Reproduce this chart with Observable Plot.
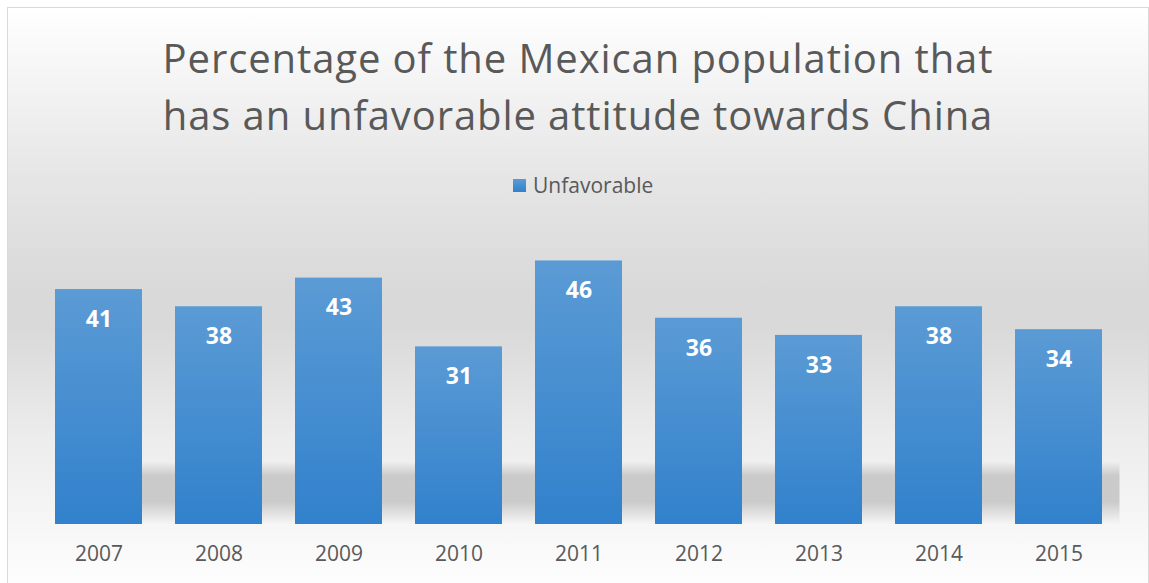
<!DOCTYPE html>
<html>
<head>
<meta charset="utf-8">
<script src="https://cdn.jsdelivr.net/npm/d3@7"></script>
<script src="https://cdn.jsdelivr.net/npm/@observablehq/plot@0.6"></script>
<style>
  html, body { margin: 0; padding: 0; background: #fff; }
  #chart {
    position: absolute; left: 7px; top: 7px; width: 1140px; height: 600px;
    border: 1px solid #d9d9d9; overflow: hidden;
    background: linear-gradient(to bottom, #ffffff 0px, #e6e6e6 167px, #d9d9d9 282px, #d9d9d9 320px, #ececec 427px, #fafafa 547px, #ffffff 600px);
    font-family: "Open Sans", sans-serif; color: #595959;
  }
  #title {
    position: absolute; left: 0; top: 21px; width: 1140px; text-align: center;
    font-size: 40px; line-height: 57px; letter-spacing: 0.9px; color: #595959; white-space: nowrap;
  }
  #legend {
    position: absolute; left: 505px; top: 167px; display: flex; align-items: center;
    font-size: 21px; line-height: 21px; color: #595959;
  }
  #legend .sw { width: 13px; height: 13px; margin-right: 7px; background: linear-gradient(to bottom, #5b9bd5, #3181cc); }
  #plot { position: absolute; left: 0; top: 192px; }
</style>
</head>
<body>
<div id="chart">
  <div id="title">Percentage of the Mexican population that<br>has an unfavorable attitude towards China</div>
  <div id="legend"><div class="sw"></div><span>Unfavorable</span></div>
  <div id="plot"></div>
</div>
<script>
const years = ["2007", "2008", "2009", "2010", "2011", "2012", "2013", "2014", "2015"];
const values = [41, 38, 43, 31, 46, 36, 33, 38, 34];
const seriesName = "Unfavorable";

const data = years.map((y, i) => ({year: y, value: values[i], series: seriesName}));

const svg = Plot.plot({
  width: 1140,
  height: 380,
  marginTop: 37.5,
  marginBottom: 56,
  marginLeft: 29,
  marginRight: 29,
  style: {background: "transparent", color: "#595959", fontFamily: "Open Sans, sans-serif", overflow: "visible"},
  x: {domain: years, paddingInner: 0.276, paddingOuter: 0.138, label: null},
  y: {domain: [0, 50], axis: null},
  marks: [
    Plot.frame({fill: "url(#shadowGrad)", stroke: "none", insetLeft: 25}),
    Plot.barY(data, {x: "year", y: "value", fill: "url(#barGrad)"}),
    Plot.text(data, {x: "year", y: "value", text: d => String(d.value), dy: 30, fill: "white", fontSize: 23, fontWeight: "bold"}),
    Plot.axisX({tickSize: 0, tickPadding: 22, fontSize: 21, label: null, fill: "#595959"})
  ]
});

svg.insertAdjacentHTML("afterbegin", `
<defs>
  <linearGradient id="barGrad" x1="0" y1="0" x2="0" y2="1">
    <stop offset="0" stop-color="#5b9bd5"/>
    <stop offset="1" stop-color="#3181cc"/>
  </linearGradient>
  <linearGradient id="shadowGrad" x1="0" y1="0" x2="0" y2="1">
    <stop offset="0" stop-color="#000" stop-opacity="0"/>
    <stop offset="0.78" stop-color="#000" stop-opacity="0"/>
    <stop offset="0.83" stop-color="#000" stop-opacity="0.16"/>
    <stop offset="0.92" stop-color="#000" stop-opacity="0.17"/>
    <stop offset="0.99" stop-color="#000" stop-opacity="0.02"/>
    <stop offset="1" stop-color="#000" stop-opacity="0"/>
  </linearGradient>
</defs>`);

document.getElementById("plot").appendChild(svg);
</script>
</body>
</html>
